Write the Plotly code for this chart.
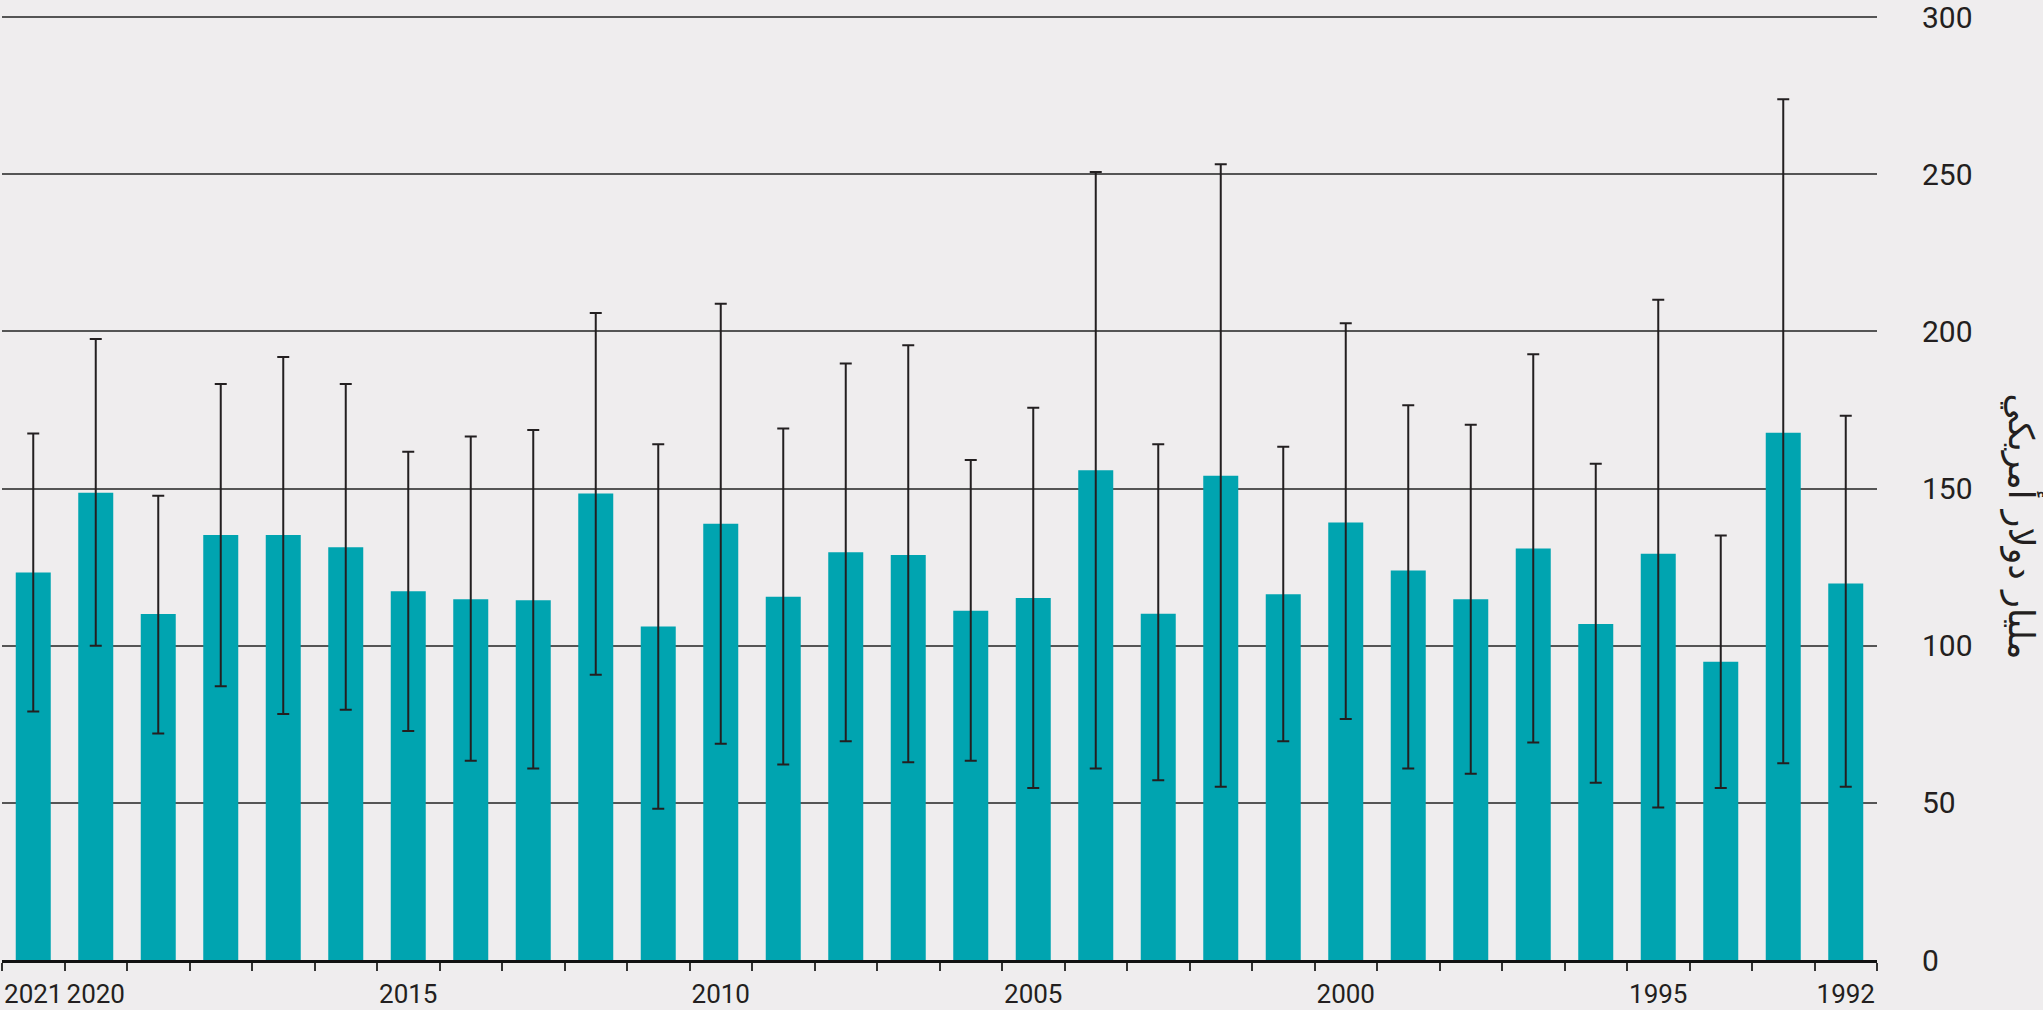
import plotly.graph_objects as go

years = list(range(2021, 1991, -1))
values = [123.3, 148.7, 110.1, 135.2, 135.2, 131.3, 117.3, 114.8, 114.5, 148.4,
          106.1, 138.8, 115.6, 129.7, 128.9, 111.1, 115.2, 155.8, 110.2, 154.1,
          116.4, 139.2, 123.9, 114.8, 130.9, 106.9, 129.3, 94.9, 167.8, 119.8]
upper = [167.5, 197.6, 147.7, 183.3, 191.9, 183.3, 161.7, 166.6, 168.6, 205.9,
         164.1, 208.8, 169.1, 189.8, 195.6, 159.1, 175.7, 250.7, 164.1, 253.2,
         163.3, 202.6, 176.5, 170.3, 192.7, 157.9, 210.1, 135.1, 273.9, 173.2]
lower = [79.1, 100.0, 72.1, 87.1, 78.3, 79.6, 72.9, 63.4, 60.9, 90.8,
         48.1, 68.8, 62.2, 69.6, 62.9, 63.4, 54.7, 60.9, 57.2, 55.1,
         69.6, 76.7, 60.9, 59.3, 69.2, 56.4, 48.5, 54.7, 62.6, 55.1]
label_years = [2021, 2020, 2015, 2010, 2005, 2000, 1995, 1992]
y_ticks = [0, 50, 100, 150, 200, 250, 300]
y_title = "مليار دولار أمريكي"

err_plus = [u - v for u, v in zip(upper, values)]
err_minus = [v - l for v, l in zip(values, lower)]
boundaries = [y + 0.5 for y in years] + [years[-1] - 0.5]

fig = go.Figure(go.Bar(
    x=years, y=values, width=0.56,
    marker=dict(color="#00a4b0", line=dict(width=0)),
    error_y=dict(type="data", symmetric=False, array=err_plus, arrayminus=err_minus,
                 color="#231f20", thickness=2, width=6),
    hoverinfo="x+y",
))

bg = "#efedee"
fig.update_layout(
    width=2043, height=1010,
    paper_bgcolor=bg, plot_bgcolor=bg,
    margin=dict(l=2, r=166, t=14, b=50, autoexpand=False),
    showlegend=False,
    xaxis=dict(
        range=[years[0] + 0.5, years[-1] - 0.5],
        tickmode="array", tickvals=label_years, ticktext=[str(y) for y in label_years],
        ticks="", showgrid=False, zeroline=False, automargin=False, tickangle=0,
        showline=True, linecolor="#111111", linewidth=3,
        tickfont=dict(family="Roboto, sans-serif", size=26, color="#231f20"),
        ticklabelstandoff=9, ticklabeloverflow="allow",
        minor=dict(tickmode="array", tickvals=boundaries, ticks="outside",
                   ticklen=8, tickwidth=1.5, tickcolor="#333333", showgrid=False),
    ),
    yaxis=dict(
        range=[0, 301], side="right", automargin=False,
        tickmode="array", tickvals=y_ticks,
        showgrid=True, gridcolor="#555555", gridwidth=1.5,
        zeroline=False, showline=False, ticks="",
        tickfont=dict(family="Roboto, sans-serif", size=30, color="#231f20"),
        ticklabelstandoff=44, ticklabeloverflow="allow",
    ),
    annotations=[dict(
        text=y_title, xref="paper", yref="paper", x=1.0775, y=0.458,
        xanchor="center", yanchor="middle", showarrow=False, textangle=90,
        font=dict(family="DejaVu Sans, sans-serif", size=35, color="#231f20"),
    )],
)

fig.write_html("out.html")
